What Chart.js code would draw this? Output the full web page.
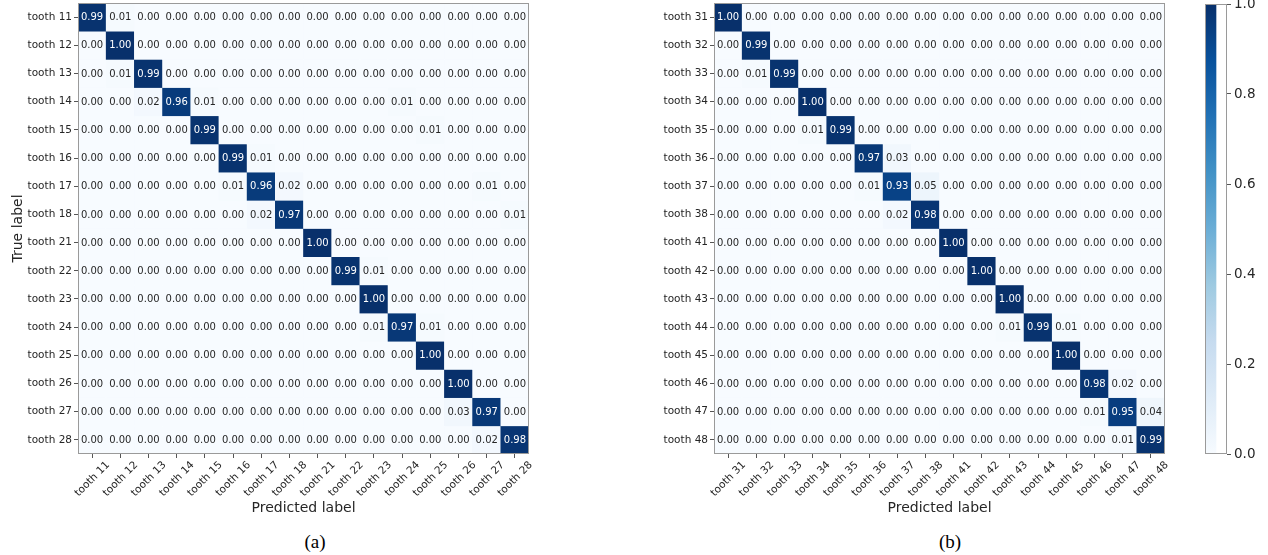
<!DOCTYPE html>
<html><head><meta charset="utf-8">
<script src="https://cdn.jsdelivr.net/npm/chart.js@4.4.0/dist/chart.umd.min.js"></script>
<style>
html,body{margin:0;padding:0;background:#fff;width:1268px;height:555px;overflow:hidden;position:relative;}
canvas{position:absolute;}
.cap{position:absolute;font-family:"Liberation Serif","Times New Roman",serif;font-size:19px;color:#000;transform:translateX(-50%);line-height:22px;}
</style></head><body>
<canvas id="cA" width="540" height="531" style="left:0;top:-10px"></canvas>
<canvas id="cB" width="540" height="531" style="left:636px;top:-10px"></canvas>
<canvas id="cC" width="118" height="531" style="left:1150px;top:-10px"></canvas>
<div class="cap" style="left:315px;top:531px">(a)</div>
<div class="cap" style="left:950px;top:531px">(b)</div>
<script>
// ---- data ----
const labelsA = ['tooth 11','tooth 12','tooth 13','tooth 14','tooth 15','tooth 16','tooth 17','tooth 18',
                 'tooth 21','tooth 22','tooth 23','tooth 24','tooth 25','tooth 26','tooth 27','tooth 28'];
const labelsB = ['tooth 31','tooth 32','tooth 33','tooth 34','tooth 35','tooth 36','tooth 37','tooth 38',
                 'tooth 41','tooth 42','tooth 43','tooth 44','tooth 45','tooth 46','tooth 47','tooth 48'];
const matrixA = [
  [0.99,0.01,0,0,0,0,0,0,0,0,0,0,0,0,0,0],
  [0,1.00,0,0,0,0,0,0,0,0,0,0,0,0,0,0],
  [0,0.01,0.99,0,0,0,0,0,0,0,0,0,0,0,0,0],
  [0,0,0.02,0.96,0.01,0,0,0,0,0,0,0.01,0,0,0,0],
  [0,0,0,0,0.99,0,0,0,0,0,0,0,0.01,0,0,0],
  [0,0,0,0,0,0.99,0.01,0,0,0,0,0,0,0,0,0],
  [0,0,0,0,0,0.01,0.96,0.02,0,0,0,0,0,0,0.01,0],
  [0,0,0,0,0,0,0.02,0.97,0,0,0,0,0,0,0,0.01],
  [0,0,0,0,0,0,0,0,1.00,0,0,0,0,0,0,0],
  [0,0,0,0,0,0,0,0,0,0.99,0.01,0,0,0,0,0],
  [0,0,0,0,0,0,0,0,0,0,1.00,0,0,0,0,0],
  [0,0,0,0,0,0,0,0,0,0,0.01,0.97,0.01,0,0,0],
  [0,0,0,0,0,0,0,0,0,0,0,0,1.00,0,0,0],
  [0,0,0,0,0,0,0,0,0,0,0,0,0,1.00,0,0],
  [0,0,0,0,0,0,0,0,0,0,0,0,0,0.03,0.97,0],
  [0,0,0,0,0,0,0,0,0,0,0,0,0,0,0.02,0.98]
];
const matrixB = [
  [1.00,0,0,0,0,0,0,0,0,0,0,0,0,0,0,0],
  [0,0.99,0,0,0,0,0,0,0,0,0,0,0,0,0,0],
  [0,0.01,0.99,0,0,0,0,0,0,0,0,0,0,0,0,0],
  [0,0,0,1.00,0,0,0,0,0,0,0,0,0,0,0,0],
  [0,0,0,0.01,0.99,0,0,0,0,0,0,0,0,0,0,0],
  [0,0,0,0,0,0.97,0.03,0,0,0,0,0,0,0,0,0],
  [0,0,0,0,0,0.01,0.93,0.05,0,0,0,0,0,0,0,0],
  [0,0,0,0,0,0,0.02,0.98,0,0,0,0,0,0,0,0],
  [0,0,0,0,0,0,0,0,1.00,0,0,0,0,0,0,0],
  [0,0,0,0,0,0,0,0,0,1.00,0,0,0,0,0,0],
  [0,0,0,0,0,0,0,0,0,0,1.00,0,0,0,0,0],
  [0,0,0,0,0,0,0,0,0,0,0.01,0.99,0.01,0,0,0],
  [0,0,0,0,0,0,0,0,0,0,0,0,1.00,0,0,0],
  [0,0,0,0,0,0,0,0,0,0,0,0,0,0.98,0.02,0],
  [0,0,0,0,0,0,0,0,0,0,0,0,0,0.01,0.95,0.04],
  [0,0,0,0,0,0,0,0,0,0,0,0,0,0,0.01,0.99]
];
const colorbarTicks = [0, 0.2, 0.4, 0.6, 0.8, 1.0];

// ---- colormap (matplotlib Blues) ----
const BLUES = ['#f7fbff','#deebf7','#c6dbef','#9ecae1','#6baed6','#4292c6','#2171b5','#08519c','#08306b'];
function hexRgb(h){return [parseInt(h.slice(1,3),16),parseInt(h.slice(3,5),16),parseInt(h.slice(5,7),16)];}
function blues(v){
  v=Math.max(0,Math.min(1,v)); const p=v*8; const i=Math.min(7,Math.floor(p)); const t=p-i;
  const a=hexRgb(BLUES[i]), b=hexRgb(BLUES[i+1]);
  return 'rgb('+a.map((x,k)=>Math.round(x+(b[k]-x)*t)).join(',')+')';
}

const FONT = '"DejaVu Sans", sans-serif';
const TXT = '#262626';
const SPINE = '#9a9a9a';

const framePlugin = {
  id:'frame',
  afterDraw(chart){
    const {ctx, chartArea:a} = chart;
    ctx.save(); ctx.strokeStyle=SPINE; ctx.lineWidth=1;
    ctx.strokeRect(Math.round(a.left)+0.5, Math.round(a.top)+0.5, Math.round(a.right-a.left)-1, Math.round(a.bottom-a.top)-1);
    ctx.restore();
  }
};

function makeMatrix(id, labels, matrix, showYTitle){
  const textPlugin = {
    id:'cellText',
    afterDatasetsDraw(chart){
      const ctx=chart.ctx;
      ctx.save(); ctx.font='10px '+FONT; ctx.textAlign='center'; ctx.textBaseline='middle';
      chart.data.datasets.forEach((ds,r)=>{
        chart.getDatasetMeta(r).data.forEach((el,c)=>{
          const v=matrix[r][c]; const p=el.getCenterPoint();
          ctx.fillStyle = v>0.5 ? '#ffffff' : TXT;
          ctx.fillText(v.toFixed(2), p.x, p.y+0.5);
        });
      });
      ctx.restore();
    }
  };
  const datasets = matrix.map((row,r)=>({
    data: row.map(()=>[r, r+1]),
    backgroundColor: row.map(v=>blues(v)),
    borderWidth: 0,
    barPercentage: 1, categoryPercentage: 1, grouped: false
  }));
  return new Chart(document.getElementById(id), {
    type:'bar',
    data:{ labels: labels, datasets: datasets },
    options:{
      responsive:false, animation:false,
      layout:{ padding:{ top:13, right:11, left:0, bottom:0 } },
      plugins:{ legend:{display:false}, tooltip:{enabled:false} },
      scales:{
        x:{
          type:'category', offset:true,
          grid:{ offset:false, drawOnChartArea:false, tickLength:4, color:'#555' },
          border:{ display:false },
          ticks:{ autoSkip:false, maxRotation:45, minRotation:45, labelOffset:16, padding:1,
                  font:{ family:FONT, size:10.5 }, color:TXT },
          title:{ display:true, text:'Predicted label', font:{ family:FONT, size:14 }, color:TXT, padding:{top:4,bottom:4} },
          afterFit(s){ s.height = 67; }
        },
        y:{
          type:'linear', min:0, max:labels.length, reverse:true,
          grid:{ drawOnChartArea:false, tickLength:4, color:'#555' },
          border:{ display:false },
          afterBuildTicks(s){ s.ticks = labels.map((l,i)=>({ value:i+0.5 })); },
          ticks:{ autoSkip:false, padding:2, font:{ family:FONT, size:10.5 }, color:TXT,
                  callback:(v,i)=>labels[i] },
          title:{ display:showYTitle, text:'True label', font:{ family:FONT, size:14 }, color:TXT, padding:{top:9.6,bottom:0} },
          afterFit(s){ s.width = 78; }
        }
      }
    },
    plugins:[textPlugin, framePlugin]
  });
}

makeMatrix('cA', labelsA, matrixA, true);
makeMatrix('cB', labelsB, matrixB, false);

// ---- colorbar ----
new Chart(document.getElementById('cC'), {
  type:'bar',
  data:{ labels:[''], datasets:[{
    data:[[colorbarTicks[0], colorbarTicks[colorbarTicks.length-1]]],
    backgroundColor:(c)=>{
      const a=c.chart.chartArea; if(!a) return BLUES[4];
      const g=c.chart.ctx.createLinearGradient(0,a.bottom,0,a.top);
      BLUES.forEach((col,i)=>g.addColorStop(i/8,col)); return g;
    },
    borderWidth:0, barPercentage:1, categoryPercentage:1
  }]},
  options:{
    responsive:false, animation:false,
    layout:{ padding:{ top:14, right:0, left:55, bottom:67 } },
    plugins:{ legend:{display:false}, tooltip:{enabled:false} },
    scales:{
      x:{ display:false, offset:false },
      y:{ position:'right', min:0, max:1,
          grid:{ drawOnChartArea:false, tickLength:4, color:'#555' },
          border:{ display:false },
          afterBuildTicks(s){ s.ticks = colorbarTicks.map(v=>({value:v})); },
          ticks:{ padding:3, font:{ family:FONT, size:13.5 }, color:TXT, callback:(v)=>Number(v).toFixed(1) },
          afterFit(s){ s.width = 41; }
      }
    }
  },
  plugins:[framePlugin]
});
</script>
</body></html>
